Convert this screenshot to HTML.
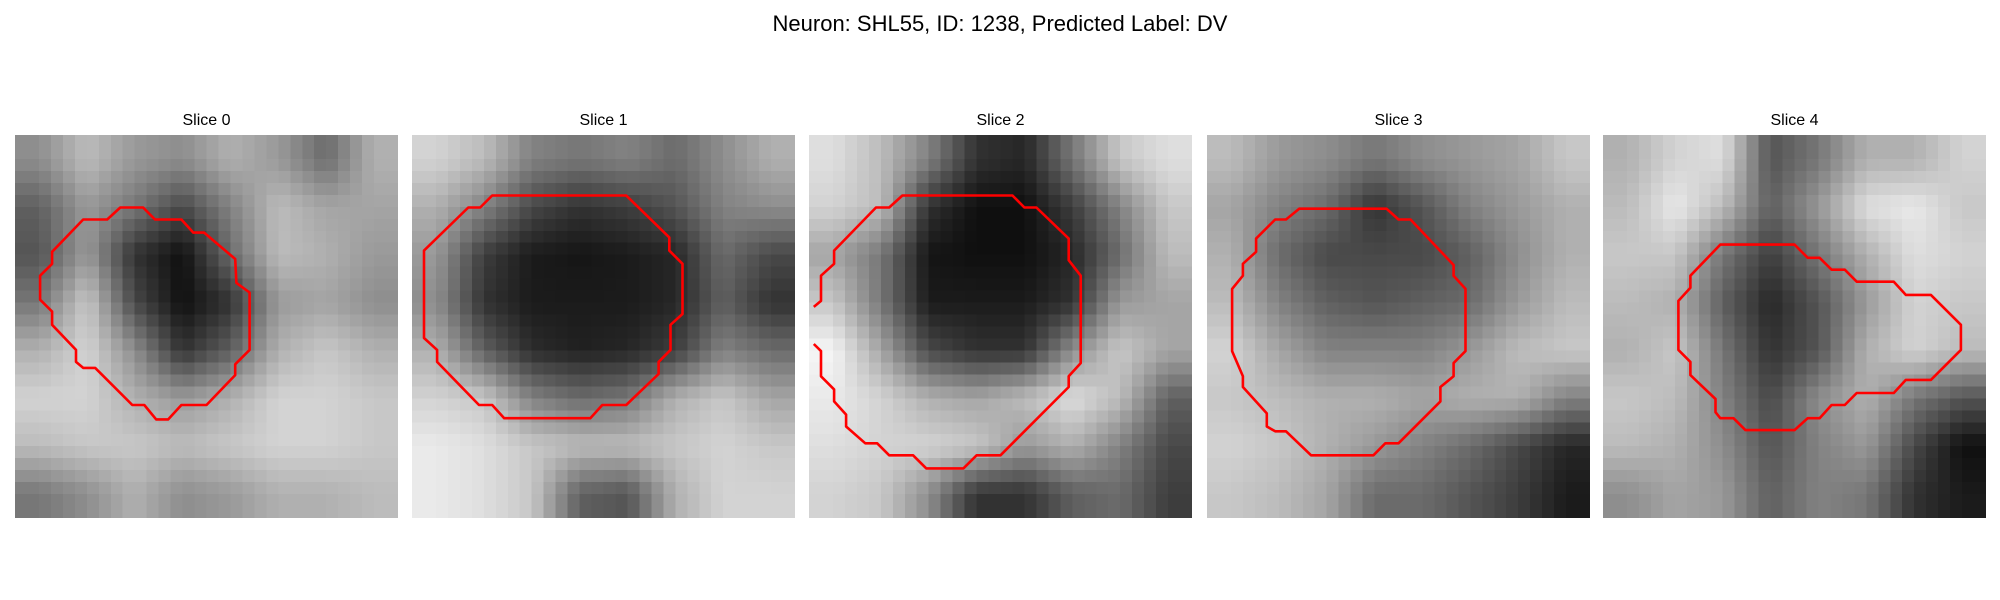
<!DOCTYPE html>
<html><head><meta charset="utf-8">
<style>
html,body{margin:0;padding:0;background:#fff;}
body{width:2000px;height:600px;position:relative;overflow:hidden;font-family:"Liberation Sans","DejaVu Sans",sans-serif;}
#title{position:absolute;left:0;width:2000px;top:11px;text-align:center;font-size:22px;color:#000;}
.st{position:absolute;top:112px;width:383px;text-align:center;font-size:16px;color:#000;}
canvas{position:absolute;top:134.5px;width:383px;height:383px;image-rendering:pixelated;}
svg{position:absolute;left:0;top:0;}
</style></head>
<body>
<div id="title">Neuron: SHL55, ID: 1238, Predicted Label: DV</div>
<div id="root"></div>
<svg id="ov" width="2000" height="600"></svg>
<script>
const panelTitles = ["Slice 0","Slice 1","Slice 2","Slice 3","Slice 4"];
const panelLefts = [15, 412, 809, 1207, 1603];
const gridN = 32;
// coarse 8x8 brightness maps (0 black - 255 white)
const img0 = [[140,180,150,140,170,150,110,170],[100,150,120,80,130,180,160,160],[90,150,60,30,110,180,170,150],[120,190,80,30,60,150,160,140],[170,200,140,60,100,170,190,170],[200,200,170,150,170,200,200,190],[180,190,190,180,190,200,200,190],[120,140,170,140,150,170,170,180]];
const img1 = [[200,180,130,120,130,110,140,170],[170,130,80,60,70,90,130,140],[150,70,40,35,40,50,110,80],[140,60,40,40,40,50,100,60],[170,100,55,45,50,70,130,110],[200,190,130,110,120,170,190,160],[220,210,190,180,180,190,200,190],[220,210,190,100,90,170,200,200]];
const img2 = [[210,180,130,60,50,120,190,210],[200,180,60,30,30,70,130,190],[160,120,35,30,30,50,110,180],[190,120,40,40,40,60,150,160],[230,160,80,60,60,140,190,160],[220,200,170,160,180,210,180,100],[210,200,200,190,150,170,130,80],[200,190,140,60,60,100,110,70]];
const img3 = [[180,150,140,120,140,150,160,190],[160,130,110,60,90,130,150,170],[170,110,80,80,80,100,140,170],[180,130,100,90,100,110,150,180],[200,160,130,130,130,150,180,190],[190,180,170,170,160,170,170,130],[200,190,170,150,130,110,80,50],[190,180,160,110,110,90,70,40]];
const img4 = [[170,200,210,90,120,170,170,200],[180,220,180,100,150,210,220,190],[190,190,120,70,120,170,210,200],[180,170,100,50,90,150,200,190],[170,190,120,60,90,170,200,180],[190,180,130,80,140,170,120,90],[180,170,140,90,130,150,80,30],[140,160,150,100,130,120,60,40]];
const images = [img0,img1,img2,img3,img4];
// contour vertices in grid-cell units
const contour0X = [8.8,10.7,11.7,13.9,14.9,15.8,18.4,18.5,19.6,19.6,18.4,18.4,16.0,13.9,12.8,11.8,10.8,9.8,6.7,5.7,5.1,5.1,3.1,3.1,2.1,2.1,3.1,3.1,5.7,7.7,8.8];
const contour0Y = [6.1,6.1,7.1,7.1,8.2,8.2,10.4,12.4,13.2,18.0,19.2,20.1,22.6,22.6,23.8,23.8,22.6,22.6,19.5,19.5,19.0,18.0,15.9,14.8,13.8,11.8,10.8,9.8,7.1,7.1,6.1];
const contour1X = [6.7,17.9,21.5,21.5,22.6,22.6,21.6,21.6,20.6,20.6,17.9,15.9,14.9,7.7,6.7,5.6,2.1,2.1,1.0,1.0,4.7,5.7,6.7];
const contour1Y = [5.1,5.1,8.6,9.7,10.8,15.0,15.9,18.0,19.0,20.0,22.6,22.6,23.7,23.7,22.6,22.6,19.0,18.0,17.0,9.7,6.1,6.1,5.1];
const contour2X = [0.4,1.0,1.0,2.1,2.1,5.6,6.7,7.8,17.0,18.0,19.0,21.7,21.7,22.7,22.7,21.7,21.7,16.0,14.0,12.9,9.8,8.7,6.7,5.7,4.7,3.1,3.1,2.1,2.1,1.0,1.0,0.4];
const contour2Y = [14.4,13.9,11.8,10.8,9.7,6.1,6.1,5.1,5.1,6.1,6.1,8.7,10.5,11.8,19.1,20.2,21.1,26.8,26.8,27.9,27.9,26.8,26.8,25.8,25.8,24.4,23.4,22.3,21.3,20.2,18.1,17.5];
const contour3X = [7.7,15.0,16.0,17.0,20.6,20.6,21.6,21.6,20.6,20.6,19.5,19.5,16.0,14.9,13.9,8.7,6.6,5.7,5.0,5.0,3.0,3.0,2.1,2.1,3.0,3.0,4.1,4.1,5.7,6.6,7.7];
const contour3Y = [6.2,6.2,7.1,7.1,10.9,11.8,12.9,18.1,19.1,20.2,21.1,22.3,25.8,25.8,26.8,26.8,24.8,24.8,24.4,23.3,21.1,20.2,18.1,12.9,11.8,10.8,9.8,8.7,7.1,7.1,6.2];
const contour4X = [9.8,16.0,17.1,18.1,19.1,20.2,21.2,24.3,25.3,27.4,29.9,29.9,27.4,25.3,24.3,21.2,20.2,19.1,18.1,17.1,16.0,11.9,10.9,9.8,9.4,9.4,7.3,7.3,6.3,6.3,7.3,7.3,9.8];
const contour4Y = [9.2,9.2,10.3,10.3,11.3,11.3,12.3,12.3,13.4,13.4,15.9,18.0,20.5,20.5,21.6,21.6,22.6,22.6,23.7,23.7,24.7,24.7,23.7,23.7,23.2,22.1,20.1,19.0,18.0,13.9,12.8,11.8,9.2];
const contoursX = [contour0X,contour1X,contour2X,contour3X,contour4X];
const contoursY = [contour0Y,contour1Y,contour2Y,contour3Y,contour4Y];
const closed = [true,true,false,true,true];

const root = document.getElementById('root');
const ov = document.getElementById('ov');
const cell = 383/gridN, top0 = 134.5;
function sx(p,c){return panelLefts[p]+c*cell;}
function sy(c){return top0+c*cell;}
function sample(g,x,y){
  let fx=(x+0.5)/4-0.5, fy=(y+0.5)/4-0.5;
  fx=Math.max(0,Math.min(7,fx)); fy=Math.max(0,Math.min(7,fy));
  const x0=Math.floor(fx),y0=Math.floor(fy),x1=Math.min(7,x0+1),y1=Math.min(7,y0+1);
  const tx=fx-x0,ty=fy-y0;
  return g[y0][x0]*(1-tx)*(1-ty)+g[y0][x1]*tx*(1-ty)+g[y1][x0]*(1-tx)*ty+g[y1][x1]*tx*ty;
}
for(let p=0;p<5;p++){
  const t=document.createElement('div');
  t.className='st'; t.style.left=panelLefts[p]+'px'; t.textContent=panelTitles[p];
  
  
  root.appendChild(t);
  const c=document.createElement('canvas');
  c.width=gridN;c.height=gridN;c.style.left=panelLefts[p]+'px';
  
  
  const ctx=c.getContext('2d');
  for(let y=0;y<gridN;y++)for(let x=0;x<gridN;x++){
    let v=sample(images[p],x,y);
    v=Math.round(Math.max(0,Math.min(255,128+(v-128)*1.15)));
    ctx.fillStyle='rgb('+v+','+v+','+v+')';ctx.fillRect(x,y,1,1);
  }
  root.appendChild(c);
  const pts=contoursX[p].map((cx,i)=>sx(p,cx).toFixed(1)+','+sy(contoursY[p][i]).toFixed(1)).join(' ');
  const pl=document.createElementNS('http://www.w3.org/2000/svg',closed[p]?'polygon':'polyline');
  pl.setAttribute('points',pts);pl.setAttribute('fill','none');pl.setAttribute('stroke','#ff0000');
  pl.setAttribute('stroke-width','2.6');pl.setAttribute('stroke-linejoin','round');
  
  
  ov.appendChild(pl);
}
</script>
</body></html>
